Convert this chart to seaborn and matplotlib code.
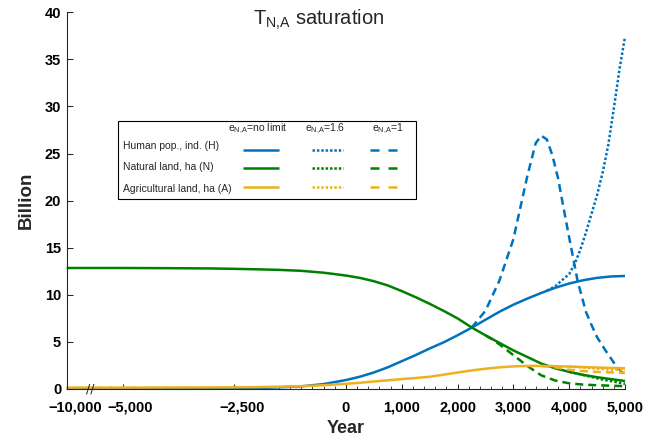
import numpy as np
import pandas as pd
import matplotlib
matplotlib.use("Agg")
import matplotlib.pyplot as plt
import matplotlib.transforms as mtransforms
from matplotlib.lines import Line2D
from matplotlib.patches import Rectangle
import seaborn as sns

# ---------------- data ----------------
years_base = [-10000, -5000, -4000, -3000, -2500, -2000, -1500, -1000, -500, 0,
              250, 500, 750, 1000, 1250, 1500, 1750, 2000, 2250, 2500, 2750,
              3000, 3250, 3500, 3750, 4000, 4250, 4500, 4750, 5000]
human_nolimit = [0.03, 0.03, 0.03, 0.04, 0.05, 0.1, 0.18, 0.28, 0.52, 0.95,
                 1.3, 1.75, 2.3, 2.95, 3.6, 4.3, 4.95, 5.7, 6.5, 7.35, 8.2,
                 8.95, 9.6, 10.2, 10.75, 11.2, 11.55, 11.8, 11.95, 12.0]
natural_nolimit = [12.85, 12.85, 12.83, 12.8, 12.76, 12.71, 12.65, 12.55, 12.35, 12.05,
                   11.8, 11.45, 11.0, 10.4, 9.75, 9.05, 8.3, 7.5, 6.55, 5.7, 4.9,
                   4.1, 3.4, 2.7, 2.2, 1.82, 1.5, 1.25, 1.05, 0.85]
agri_nolimit = [0.15, 0.15, 0.16, 0.17, 0.18, 0.2, 0.24, 0.3, 0.4, 0.55,
                0.66, 0.8, 0.92, 1.05, 1.17, 1.3, 1.52, 1.75, 1.97, 2.15, 2.3,
                2.4, 2.45, 2.45, 2.42, 2.38, 2.33, 2.28, 2.24, 2.2]

years_h_e1 = [2250, 2500, 2750, 3000, 3250, 3400, 3500, 3600, 3700, 3800, 3900,
              4000, 4150, 4300, 4400, 4500, 4650, 4800, 4900, 5000]
human_e1 = [6.5, 8.3, 11.5, 15.9, 22.6, 26.1, 26.9, 26.5, 24.8, 22.4, 19.2,
            16.1, 11.5, 8.2, 6.8, 5.5, 4.1, 2.8, 2.1, 1.4]

years_h_e16 = [3600, 3750, 3900, 4000, 4100, 4200, 4300, 4400, 4500, 4600,
               4700, 4800, 4900, 5000]
human_e16 = [10.45, 10.9, 11.7, 12.2, 13.3, 14.8, 16.6, 18.6, 20.6, 23.0,
             25.9, 29.8, 33.9, 37.4]

years_n_e1 = [2500, 2600, 2750, 3000, 3250, 3500, 3750, 4000, 4250, 4500, 4750, 5000]
natural_e1 = [5.7, 5.35, 4.75, 3.6, 2.45, 1.45, 0.9, 0.6, 0.47, 0.4, 0.35, 0.3]

years_n_e16 = [4000, 4200, 4400, 4600, 4800, 5000]
natural_e16 = [1.82, 1.56, 1.28, 1.0, 0.78, 0.55]

years_a_e1 = [3500, 3750, 4000, 4250, 4500, 4750, 5000]
agri_e1 = [2.45, 2.3, 2.05, 1.9, 1.82, 1.76, 1.72]

years_a_e16 = [4000, 4250, 4500, 4750, 5000]
agri_e16 = [2.38, 2.28, 2.16, 2.06, 2.0]

variables = ["Human pop., ind. (H)", "Natural land, ha (N)", "Agricultural land, ha (A)"]
scenarios = ["no limit", "1.6", "1"]
scenario_headers = [r"$\mathregular{e_{N{,}A}}$=no limit", r"$\mathregular{e_{N{,}A}}$=1.6",
                    r"$\mathregular{e_{N{,}A}}$=1"]
colors = ["#0072BD", "#008000", "#EDB120"]

xtick_values = [-10000, -5000, -2500, 0, 1000, 2000, 3000, 4000, 5000]
xtick_labels = ["\u221210,000", "\u22125,000", "\u22122,500", "0", "1,000", "2,000",
                "3,000", "4,000", "5,000"]
ytick_values = [0, 5, 10, 15, 20, 25, 30, 35, 40]

# ---------------- long table ----------------
series = [
    (variables[0], "no limit", years_base, human_nolimit),
    (variables[1], "no limit", years_base, natural_nolimit),
    (variables[2], "no limit", years_base, agri_nolimit),
    (variables[0], "1.6", years_h_e16, human_e16),
    (variables[1], "1.6", years_n_e16, natural_e16),
    (variables[2], "1.6", years_a_e16, agri_e16),
    (variables[0], "1", years_h_e1, human_e1),
    (variables[1], "1", years_n_e1, natural_e1),
    (variables[2], "1", years_a_e1, agri_e1),
]
rows = []
for var, scen, yrs, vals in series:
    for yr, v in zip(yrs, vals):
        rows.append({"Year": yr, "Billion": v, "var": var, "scen": scen})
df = pd.DataFrame(rows)

# ---------------- style ----------------
sns.set_theme(style="white")
plt.rcParams["font.family"] = ["Liberation Sans", "DejaVu Sans"]
plt.rcParams["mathtext.fontset"] = "custom"
plt.rcParams["mathtext.rm"] = "Liberation Sans"
plt.rcParams["mathtext.it"] = "Liberation Sans:italic"
plt.rcParams["mathtext.bf"] = "Liberation Sans:bold"
axcol = "#262626"

W, H = 662, 445
fig = plt.figure(figsize=(W / 100, H / 100), dpi=100)
ax = fig.add_axes([66.7 / W, 1 - 389 / H, (625 - 66.7) / W, (389 - 12.3) / H])

dash_map = {"no limit": "", "1.6": (1, 0.85), "1": (3.2, 2.0)}
sns.lineplot(data=df, x="Year", y="Billion", hue="var", style="scen",
             hue_order=variables, style_order=scenarios,
             palette=dict(zip(variables, colors)), dashes=dash_map,
             estimator=None, sort=False, linewidth=1.8, legend=False, ax=ax)
for ln in ax.get_lines():
    ln.set_clip_on(False)
    ln.set_solid_capstyle("butt")
    ln.set_dash_capstyle("butt")


# piecewise-linear broken x axis
def fwd(x):
    x = np.asarray(x, dtype=float)
    return np.where(x < -5000, (x + 10000) / 5000.0,
                    np.where(x < 0, 1 + (x + 5000) / 1250.0, 5 + x / 1000.0))


def inv(u):
    u = np.asarray(u, dtype=float)
    return np.where(u < 1, u * 5000.0 - 10000, np.where(u < 5, (u - 1) * 1250.0 - 5000, (u - 5) * 1000.0))


ax.set_xscale("function", functions=(fwd, inv))
ax.set_xlim(-10000, 5000)
ax.set_ylim(0, 40)

ax.set_xticks(xtick_values)
ax.set_xticklabels(xtick_labels)
minor_u = np.round(np.arange(0, 10.001, 0.2), 3)
major_u = np.round(fwd(xtick_values), 3)
minor_x = [float(inv(u)) for u in minor_u if not np.any(np.isclose(u, major_u))]
ax.set_xticks(minor_x, minor=True)
ax.set_yticks(ytick_values)
ax.set_yticklabels([str(v) for v in ytick_values])

ax.tick_params(axis="x", which="both", bottom=True, top=False)
ax.tick_params(axis="y", which="both", left=True, right=False)
ax.tick_params(axis="x", which="major", direction="in", length=3.8, width=0.75,
               color=axcol, pad=8.5, labelsize=10.5, labelcolor="black")
ax.tick_params(axis="x", which="minor", direction="in", length=2.0, width=0.6, color=axcol)
ax.tick_params(axis="y", which="major", direction="in", length=4.3, width=0.75,
               color=axcol, pad=4, labelsize=10.5, labelcolor="black")
for lab in ax.get_xticklabels() + ax.get_yticklabels():
    lab.set_fontweight("bold")
# negative labels sit a little right of their ticks in the reference
shift = mtransforms.ScaledTranslation(8 / 100, 0, fig.dpi_scale_trans)
for lab, v in zip(ax.get_xticklabels(), xtick_values):
    if v < 0:
        lab.set_transform(lab.get_transform() + shift)

for side in ["top", "right"]:
    ax.spines[side].set_visible(False)
for side in ["left", "bottom"]:
    ax.spines[side].set_color(axcol)
    ax.spines[side].set_linewidth(0.8)

ax.set_xlabel("Year", fontsize=13, fontweight="bold", labelpad=4)
ax.set_ylabel("Billion", fontsize=13.5, fontweight="bold")
ax.yaxis.set_label_coords(-0.058, 0.5)

# axis break mark
ax.text(-7900, 0, "//", transform=mtransforms.blended_transform_factory(ax.transData, ax.transAxes),
        ha="center", va="center", fontsize=9, color=axcol, family="DejaVu Sans", clip_on=False,
        zorder=12)

# title
fig.text(253 / W, 1 - 25 / H, r"$\mathregular{T_{N{,}A}}$ saturation", fontsize=14.5,
         ha="left", va="baseline")


# ---------------- custom table legend ----------------
def fx(p):
    return p / W


def fy(p):
    return 1 - p / H


tf = fig.transFigure
ax.add_patch(Rectangle((fx(118), fy(199)), fx(416) - fx(118), fy(121) - fy(199),
                       transform=tf, facecolor="white", edgecolor="black", lw=0.8,
                       clip_on=False, zorder=10))
header_x = [228, 305, 372]
for hx, txt in zip(header_x, scenario_headers):
    ax.text(fx(hx), fy(131.5), txt, transform=tf, fontsize=7.5, ha="left", va="baseline",
            zorder=11, clip_on=False)
row_text_y = [145.5, 167.5, 188.5]
row_line_y = [149.7, 168.3, 186.7]
seg_x = [(243, 279), (312, 343), (370, 397)]
leg_dash = {"no limit": "", "1.6": (1, 0.75), "1": (3.6, 3.6)}
for var, col, ty, ly in zip(variables, colors, row_text_y, row_line_y):
    ax.text(fx(122.7), fy(ty), var, transform=tf, fontsize=7.5, ha="left", va="center",
            zorder=11, clip_on=False)
    for scen, (x0, x1) in zip(scenarios, seg_x):
        ln = Line2D([fx(x0), fx(x1)], [fy(ly), fy(ly)], transform=tf, color=col, lw=1.8,
                    solid_capstyle="butt", dash_capstyle="butt", zorder=11, clip_on=False)
        if leg_dash[scen]:
            ln.set_dashes(leg_dash[scen])
        ax.add_line(ln)

fig.savefig("out.png", dpi=100)
